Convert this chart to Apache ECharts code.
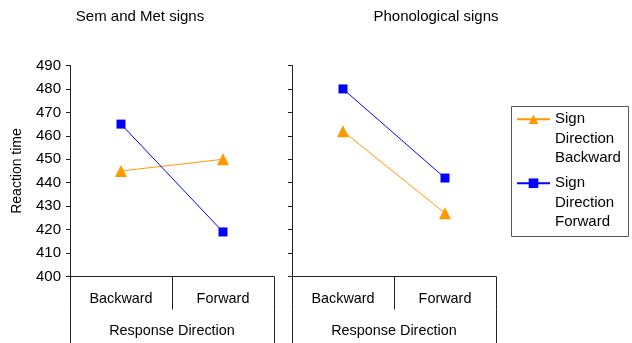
<!DOCTYPE html>
<html lang="en">
<head>
  <meta charset="UTF-8" />
  <title>Reaction time by response direction</title>
  <script src="https://cdn.jsdelivr.net/npm/echarts@6.0.0/dist/echarts.min.js"></script>
  <style>
    body { margin: 0; background: #fff; }
    #chart { width: 632px; height: 343px; }
  </style>
</head>
<body>
  <div id="chart"></div>
  <script>
    // data
    const categories = ['Backward', 'Forward'];
    const groupName = ['Response Direction'];
    const panelTitles = ['Sem and Met signs', 'Phonological signs'];
    const seriesNames = ['Sign\nDirection\nBackward', 'Sign\nDirection\nForward'];
    const semSignBackward = [445, 450];
    const semSignForward = [465, 419];
    const phonSignBackward = [462, 427];
    const phonSignForward = [480, 442];

    const FONT = 'Liberation Sans, Arial, sans-serif';
    const ORANGE = '#FF9900';
    const BLUE = '#0000FF';
    const AXIS = '#222';
    const LH = 19.5;

    const chart = echarts.init(document.getElementById('chart'), null, { renderer: 'canvas' });

    const grids = [
      { left: 70, top: 65.5, width: 204, height: 211 },
      { left: 292, top: 65.5, width: 204, height: 211 }
    ];

    function catAxis(gi) {
      return {
        type: 'category', gridIndex: gi, data: categories, boundaryGap: true,
        axisLine: { show: true, lineStyle: { color: AXIS, width: 1 } },
        axisTick: { show: true, alignWithLabel: false, interval: 0, length: 33, lineStyle: { color: AXIS } },
        axisLabel: { color: '#000', fontSize: 14.4, fontFamily: FONT, margin: 16, interval: 0 }
      };
    }
    function groupAxis(gi) {
      return {
        type: 'category', gridIndex: gi, data: groupName, boundaryGap: true,
        position: 'bottom', offset: 33,
        axisLine: { show: false },
        axisTick: { show: true, alignWithLabel: false, interval: 0, length: 40, lineStyle: { color: AXIS } },
        axisLabel: { color: '#000', fontSize: 14.4, fontFamily: FONT, margin: 15 }
      };
    }
    function valAxis(gi, labels) {
      return {
        type: 'value', gridIndex: gi, min: 400, max: 490, interval: 10,
        name: labels ? 'Reaction time' : '', nameLocation: 'middle', nameGap: 46,
        nameTextStyle: { color: '#000', fontSize: 14, fontFamily: FONT },
        splitLine: { show: false },
        axisLine: { show: true, lineStyle: { color: AXIS, width: 1 } },
        axisTick: { show: true, length: 4, lineStyle: { color: AXIS } },
        axisLabel: { show: labels, color: '#000', fontSize: 15, fontFamily: FONT, margin: 9 }
      };
    }
    function lineSeries(name, data, gi, color, symbol, size) {
      return {
        type: 'line', name: name, data: data,
        xAxisIndex: gi * 2, yAxisIndex: gi,
        symbol: symbol, symbolSize: size,
        lineStyle: { color: color, width: 1 },
        itemStyle: { color: color },
        emphasis: { disabled: true },
        animation: false
      };
    }

    const titleStyle = { fontSize: 15, fontWeight: 'normal', color: '#000', fontFamily: FONT };

    chart.setOption({
      animation: false,
      title: [
        { text: panelTitles[0], left: 140, top: 9, padding: 0, textAlign: 'center', textStyle: titleStyle },
        { text: panelTitles[1], left: 436, top: 9, padding: 0, textAlign: 'center', textStyle: titleStyle }
      ],
      grid: grids,
      xAxis: [catAxis(0), groupAxis(0), catAxis(1), groupAxis(1)],
      yAxis: [valAxis(0, true), valAxis(1, false)],
      legend: {
        orient: 'vertical', left: 516, top: 70.5, padding: 0,
        itemWidth: 33, itemHeight: 12, itemGap: -33.5,
        data: seriesNames,
        selectedMode: false,
        // two blank lines first so the icon sits beside the first text line
        formatter: function (name) { return '\n\n' + name; },
        textStyle: { color: '#000', fontSize: 15, fontFamily: FONT, lineHeight: LH }
      },
      graphic: [{
        type: 'rect', left: 509, top: 104,
        shape: { width: 117, height: 130 },
        style: { fill: 'none', stroke: '#555', lineWidth: 1 }
      }],
      series: [
        lineSeries(seriesNames[0], semSignBackward, 0, ORANGE, 'triangle', 12),
        lineSeries(seriesNames[1], semSignForward, 0, BLUE, 'rect', 9),
        lineSeries(seriesNames[0], phonSignBackward, 1, ORANGE, 'triangle', 12),
        lineSeries(seriesNames[1], phonSignForward, 1, BLUE, 'rect', 9)
      ]
    });
  </script>
</body>
</html>
